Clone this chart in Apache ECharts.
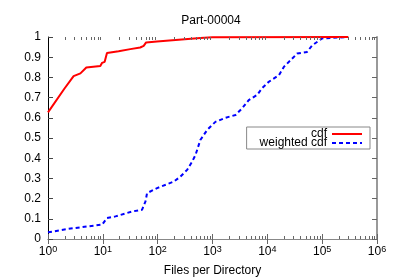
<!DOCTYPE html>
<html>
<head>
<meta charset="utf-8">
<script src="https://cdn.jsdelivr.net/npm/echarts@6/dist/echarts.min.js"></script>
<style>
html,body{margin:0;padding:0;background:#fff;}
#c{width:399px;height:279px;}
</style>
</head>
<body>
<div id="c"></div>
<script>
// ---- data ----
const titleText = 'Part-00004';
const xAxisName = 'Files per Directory';
const seriesNames = ['cdf', 'weighted cdf'];

const cdfX = [1, 2, 2.93, 3.9, 5.0, 9.0, 9.7, 10.8, 11.9, 19.4, 31.7, 34, 48, 55.6, 61.6, 97, 600, 1000, 300000];
const cdfY = [0.627, 0.745, 0.806, 0.82, 0.849, 0.857, 0.872, 0.877, 0.921, 0.93, 0.94, 0.946, 0.948, 0.956, 0.973, 0.978, 0.995, 0.999, 1.0];

const wcdfX = [1, 2.2, 5.1, 9.7, 11.9, 17, 34, 52, 60, 64, 97.6, 196, 260, 344, 425, 490, 600, 800, 1130, 1720, 2630, 3470, 4580, 6500, 8000, 10600, 16300, 20000, 26500, 35000, 53000, 66000, 100000, 290000];
const wcdfY = [0.033, 0.049, 0.062, 0.071, 0.104, 0.112, 0.136, 0.145, 0.186, 0.227, 0.252, 0.284, 0.309, 0.342, 0.383, 0.416, 0.49, 0.54, 0.58, 0.60, 0.614, 0.647, 0.688, 0.713, 0.746, 0.778, 0.811, 0.852, 0.885, 0.918, 0.926, 0.959, 0.993, 1.0];

const xMin = 1, xMax = 1000000;
const yMin = 0, yMax = 1, yStep = 0.1;
const minorMultipliers = [2, 3, 4, 5, 6, 7, 8, 9];

// ---- chart ----
const chart = echarts.init(document.getElementById('c'), null, {renderer: 'canvas'});
const FONT = 'Liberation Sans, Arial, sans-serif';

function pairs(xs, ys) { return xs.map((x, i) => [x, ys[i]]); }

const xLabel = v => {
  const n = Math.round(Math.log10(v));
  return '{b|10}{s|' + n + '}';
};

const option = {
  animation: false,
  backgroundColor: '#fff',
  textStyle: {fontFamily: FONT},
  title: {
    text: titleText,
    left: 206, top: 10, textAlign: 'center',
    textStyle: {fontSize: 12, fontWeight: 'normal', color: '#000', fontFamily: FONT}
  },
  grid: {left: 48, right: 22, top: 37, bottom: 40, containLabel: false, outerBoundsMode: 'none'},
  legend: {
    orient: 'vertical',
    right: 29, top: 127,
    align: 'right',
    itemWidth: 30, itemHeight: 8, itemGap: -3,
    padding: [1, 7, 0, 13],
    borderColor: '#888', borderWidth: 1,
    backgroundColor: '#fff',
    itemStyle: {opacity: 0},
    textStyle: {fontSize: 12, color: '#000', fontFamily: FONT},
    data: seriesNames
  },
  xAxis: [{
    type: 'log', logBase: 10, min: xMin, max: xMax, position: 'bottom',
    name: xAxisName, nameLocation: 'middle', nameGap: 26,
    nameTextStyle: {fontSize: 12, color: '#000', fontFamily: FONT},
    axisLine: {lineStyle: {color: '#888', width: 1}},
    axisTick: {inside: true, length: 5, lineStyle: {color: '#666'}},
    axisLabel: {
      formatter: xLabel, margin: 6, color: '#000',
      rich: {
        b: {fontSize: 12, color: '#000', fontFamily: FONT, lineHeight: 14},
        s: {fontSize: 9, color: '#000', fontFamily: FONT, verticalAlign: 'top', lineHeight: 9, padding: [0, 0, 6, 0]}
      }
    },
    splitLine: {show: false}
  }, {
    type: 'log', logBase: 10, min: xMin, max: xMax, position: 'top',
    axisLine: {lineStyle: {color: '#888', width: 1}},
    axisTick: {inside: true, length: 5, lineStyle: {color: '#666'}},
    axisLabel: {show: false},
    splitLine: {show: false}
  }],
  yAxis: [{
    type: 'value', min: yMin, max: yMax, interval: yStep, position: 'left',
    axisLine: {show: true, lineStyle: {color: '#000', width: 1}},
    axisTick: {show: true, inside: true, length: 5, lineStyle: {color: '#444'}},
    axisLabel: {
      formatter: v => String(+v.toFixed(1)), margin: 7, color: '#000',
      fontSize: 12, fontFamily: FONT
    },
    splitLine: {show: false}
  }, {
    type: 'value', min: yMin, max: yMax, interval: yStep, position: 'right',
    axisLine: {show: true, lineStyle: {color: '#999', width: 2}},
    axisTick: {show: true, inside: true, length: 5, lineStyle: {color: '#666'}},
    axisLabel: {show: false},
    splitLine: {show: false}
  }],
  series: [{
    name: seriesNames[0], type: 'line', xAxisIndex: 0, yAxisIndex: 0,
    data: pairs(cdfX, cdfY), symbol: 'none', smooth: false,
    lineStyle: {color: '#ff0000', width: 2},
    itemStyle: {color: '#ff0000'},
    z: 3
  }, {
    name: seriesNames[1], type: 'line', xAxisIndex: 0, yAxisIndex: 0,
    data: pairs(wcdfX, wcdfY), symbol: 'none', smooth: false,
    lineStyle: {color: '#0000ff', width: 2, type: [4, 3]},
    itemStyle: {color: '#0000ff'},
    z: 2
  }]
};
chart.setOption(option);

// minor log ticks on bottom and top, positioned through the axis scale
const yb = chart.convertToPixel({yAxisIndex: 0}, yMin);
const yt = chart.convertToPixel({yAxisIndex: 0}, yMax);
const g = [];
for (let p = 0; p < 6; p++) {
  for (const m of minorMultipliers) {
    const x = Math.round(chart.convertToPixel({xAxisIndex: 0}, m * Math.pow(10, p))) + 0.5;
    g.push({type: 'line', silent: true, z: 5, shape: {x1: x, y1: yb, x2: x, y2: yb - 3}, style: {stroke: '#666', lineWidth: 1}});
    g.push({type: 'line', silent: true, z: 5, shape: {x1: x, y1: yt, x2: x, y2: yt + 3}, style: {stroke: '#666', lineWidth: 1}});
  }
}
chart.setOption({graphic: g});
</script>
</body>
</html>
